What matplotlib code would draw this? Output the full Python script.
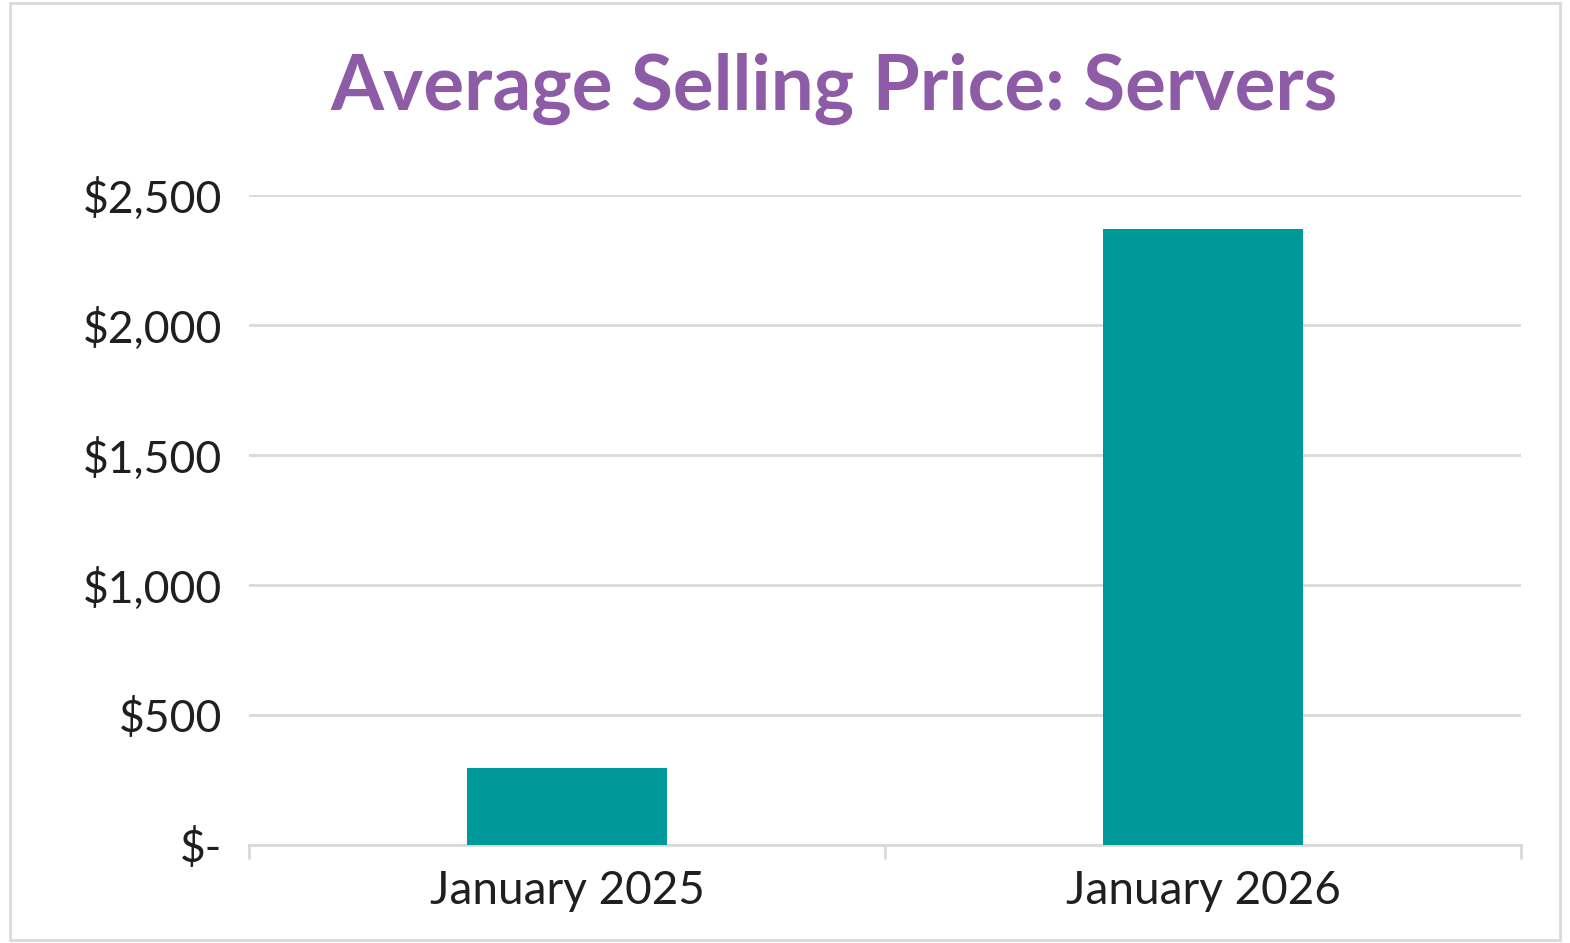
import matplotlib

matplotlib.use("Agg")
import matplotlib.pyplot as plt
from matplotlib.patches import Rectangle
from matplotlib.ticker import FuncFormatter

categories = ["January 2025", "January 2026"]
prices = [295, 2370]
y_ticks = [0, 500, 1000, 1500, 2000, 2500]

TEAL = "#009999"
PURPLE = "#8E5CA6"
GRID = "#D9D9D9"
TEXT = "#1F1F1F"

plt.rcParams["font.family"] = ["Lato", "DejaVu Sans"]

fig = plt.figure(figsize=(15.7, 9.43), dpi=100)
ax = fig.add_axes([0.1586, 0.1039, 0.9688 - 0.1586, 0.7932 - 0.1039])

x = list(range(len(categories)))
ax.bar(x, prices, width=0.313, color=TEAL, zorder=3)
ax.set_xlim(-0.5, len(categories) - 0.5)
ax.set_ylim(0, 2500)


def money(v, _pos):
    return "$-" if v == 0 else f"${v:,.0f}"


ax.set_yticks(y_ticks)
ax.yaxis.set_major_formatter(FuncFormatter(money))
ax.tick_params(axis="y", length=0, pad=19, labelsize=32, labelcolor=TEXT)
ax.grid(axis="y", color=GRID, lw=2, zorder=0)

ax.set_xticks(x)
ax.set_xticklabels(categories)
ax.set_xticks([i - 0.5 for i in range(len(categories) + 1)], minor=True)
ax.tick_params(axis="x", which="major", length=0, pad=18, labelsize=33, labelcolor=TEXT)
ax.tick_params(axis="x", which="minor", length=10, width=2, color=GRID)

for side in ("top", "right", "left"):
    ax.spines[side].set_visible(False)
ax.spines["bottom"].set_color(GRID)
ax.spines["bottom"].set_linewidth(2)

fig.text(0.531, 0.906, "Average Selling Price: Servers", ha="center", va="center",
         fontsize=55, fontweight="bold", color=PURPLE)

fig.patches.append(Rectangle((10 / 1570, 3 / 943), 1550 / 1570, 937 / 943, transform=fig.transFigure,
                             fill=False, edgecolor=GRID, lw=2))

fig.savefig("out.png", dpi=100)
